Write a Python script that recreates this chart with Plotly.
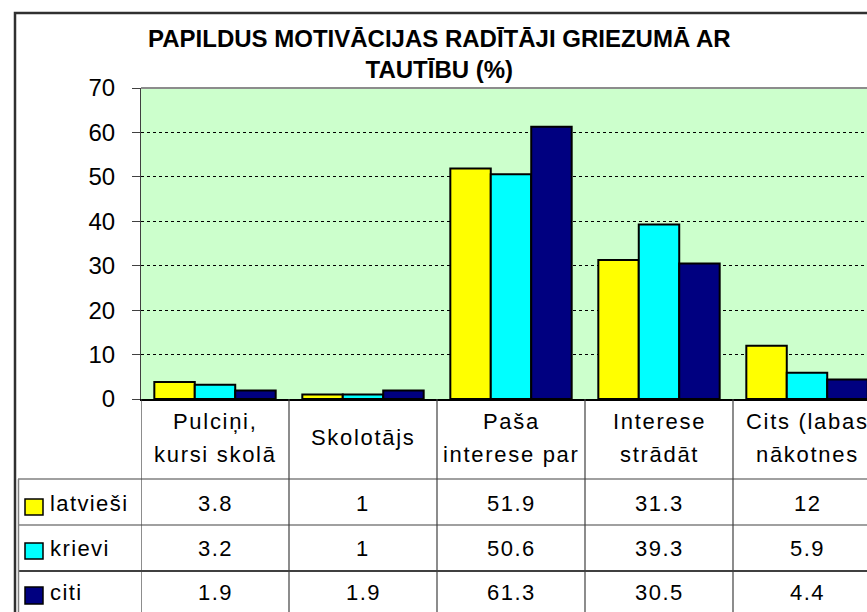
import plotly.graph_objects as go

# ---- data ----
categories = ["Pulciņi,\nkursi skolā", "Skolotājs", "Paša\ninterese par",
              "Interese\nstrādāt", "Cits (labas\nnākotnes"]
series_names = ["latvieši", "krievi", "citi"]
latviesi = [3.8, 1, 51.9, 31.3, 12]
krievi = [3.2, 1, 50.6, 39.3, 5.9]
citi = [1.9, 1.9, 61.3, 30.5, 4.4]
y_ticks = [0, 10, 20, 30, 40, 50, 60, 70]
title_text = "PAPILDUS MOTIVĀCIJAS RADĪTĀJI GRIEZUMĀ AR<br>TAUTĪBU (%)"

series_values = [latviesi, krievi, citi]
colors = ["#FFFF00", "#00FFFF", "#000080"]

# ---- layout helpers (pixel -> paper) ----
W, H = 867, 612
def px(x):
    return x / W
def py(y):
    return 1 - y / H

FONT = "Liberation Sans, Arial, sans-serif"
plot_left, plot_top, plot_bottom = 141, 88, 399
cat_w = 148.0

def spaced(t, ls=1.7):
    return f'<span style="letter-spacing:{ls}px">{t}</span>'

fig = go.Figure()
xs = list(range(len(categories)))
for name, vals, col in zip(series_names, series_values, colors):
    fig.add_trace(go.Bar(
        x=xs, y=vals, name=name,
        marker=dict(color=col, line=dict(color="black", width=2)),
        showlegend=False, hoverinfo="x+y+name",
    ))

shapes = []
annotations = []

# outer chart frame (top and left edges; right/bottom lie outside the view)
shapes.append(dict(type="rect", xref="paper", yref="paper",
                   x0=px(15), x1=px(W + 20), y0=py(13), y1=py(H + 20),
                   line=dict(color="#303030", width=2.5), fillcolor="rgba(0,0,0,0)",
                   layer="above"))
# plot area top border
shapes.append(dict(type="line", xref="paper", yref="paper",
                   x0=px(plot_left), x1=px(W + 20), y0=py(plot_top), y1=py(plot_top),
                   line=dict(color="#8c8c8c", width=2), layer="above"))

# table horizontal lines
row_lines = [(479, "#808080"), (525, "#808080"), (571, "#000000")]
for yy, c in row_lines:
    shapes.append(dict(type="line", xref="paper", yref="paper",
                       x0=px(18), x1=px(W + 20), y0=py(yy), y1=py(yy),
                       line=dict(color=c, width=1.5), layer="above"))
# table left border
shapes.append(dict(type="line", xref="paper", yref="paper",
                   x0=px(18.5), x1=px(18.5), y0=py(479), y1=py(H + 20),
                   line=dict(color="#808080", width=1.5), layer="above"))
# table column lines (category boundaries)
for k in range(len(categories)):
    shapes.append(dict(type="line", xref="x", yref="paper",
                       x0=k - 0.5, x1=k - 0.5, y0=py(plot_bottom), y1=py(H + 20),
                       line=dict(color="#404040", width=1.2), layer="above"))

# title
annotations.append(dict(xref="paper", yref="paper", x=px(440), y=py(54),
                        xanchor="center", yanchor="middle", showarrow=False,
                        text="<b>" + title_text + "</b>",
                        font=dict(family=FONT, size=24, color="black")))

# header labels (category names)
for k, cat in enumerate(categories):
    lines = cat.split("\n")
    if len(lines) == 1:
        ys = [437]
    else:
        ys = [421, 454]
    for ln, yy in zip(lines, ys):
        annotations.append(dict(xref="x", yref="paper", x=k, y=py(yy),
                                xanchor="center", yanchor="middle", showarrow=False,
                                text=spaced(ln), font=dict(family=FONT, size=22, color="black")))

# value rows + legend keys
row_centers = [503, 548, 592]
key_boxes = [(501, 514), (545, 558), (589, 603)]
for name, vals, col, yc, (k0, k1) in zip(series_names, series_values, colors, row_centers, key_boxes):
    shapes.append(dict(type="rect", xref="paper", yref="paper",
                       x0=px(25), x1=px(43), y0=py(k0 - 2), y1=py(k1 + 1),
                       fillcolor=col, line=dict(color="black", width=1.5), layer="above"))
    annotations.append(dict(xref="paper", yref="paper", x=px(48), y=py(yc),
                            xanchor="left", yanchor="middle", showarrow=False,
                            text=spaced(name, 1.4), font=dict(family=FONT, size=22, color="black")))
    for k, v in enumerate(vals):
        annotations.append(dict(xref="x", yref="paper", x=k, y=py(yc),
                                xanchor="center", yanchor="middle", showarrow=False,
                                text=spaced(f"{v:g}", 1.5), font=dict(family=FONT, size=22, color="black")))

fig.update_layout(
    width=W, height=H, autosize=False,
    margin=dict(l=0, r=0, t=0, b=0, pad=0, autoexpand=False),
    paper_bgcolor="white", plot_bgcolor="#CCFFCC",
    barmode="group", bargap=0.18, bargroupgap=0,
    shapes=shapes, annotations=annotations,
    font=dict(family=FONT, color="black"),
    xaxis=dict(domain=[px(plot_left), 1], range=[-0.5, -0.5 + (W - plot_left) / cat_w],
               showticklabels=False, ticks="", showgrid=False, zeroline=False,
               automargin=False,
               showline=True, linecolor="black", linewidth=1.5, fixedrange=True),
    yaxis=dict(domain=[py(plot_bottom), py(plot_top)], range=[0, 70],
               tickvals=y_ticks, ticktext=[str(t) for t in y_ticks],
               ticks="outside", ticklen=8, tickwidth=1.2, tickcolor="#404040",
               ticklabelstandoff=12, automargin=False,
               tickfont=dict(family=FONT, size=24, color="black"),
               showgrid=True, gridcolor="black", gridwidth=1, griddash="dot",
               zeroline=False, showline=True, linecolor="#404040", linewidth=1.2,
               fixedrange=True),
)

fig.write_html("out.html", config={"displayModeBar": False},
               post_script="document.body.style.margin='0';")
